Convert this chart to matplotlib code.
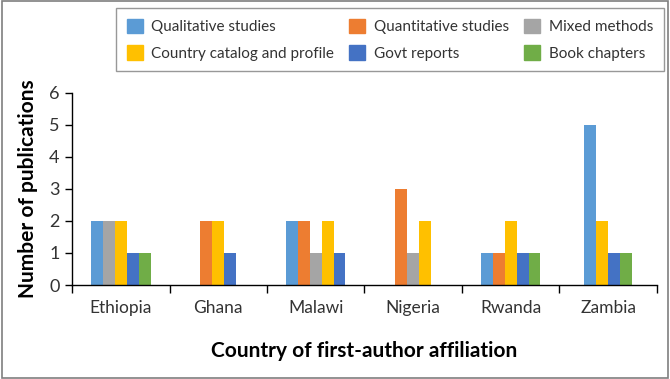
import numpy as np
import matplotlib
matplotlib.use("Agg")
import matplotlib.pyplot as plt
from matplotlib.patches import Rectangle

plt.rcParams['font.family'] = ['Lato', 'DejaVu Sans']

countries = ['Ethiopia', 'Ghana', 'Malawi', 'Nigeria', 'Rwanda', 'Zambia']
series = ['Qualitative studies', 'Quantitative studies', 'Mixed methods',
          'Country catalog and profile', 'Govt reports', 'Book chapters']
qualitative = [2, 0, 2, 0, 1, 5]
quantitative = [0, 2, 2, 3, 1, 0]
mixed = [2, 0, 1, 1, 0, 0]
catalog = [2, 2, 2, 2, 2, 2]
govt = [1, 1, 1, 0, 1, 1]
book = [1, 0, 0, 0, 1, 1]
colors = ['#5B9BD5', '#ED7D31', '#A5A5A5', '#FFC000', '#4472C4', '#70AD47']

values = np.array([qualitative, quantitative, mixed, catalog, govt, book])

fig = plt.figure(figsize=(6.7, 3.79), dpi=100)
ax = fig.add_axes([0.1075, 0.248, 0.873, 0.507])

bw = 0.122
# zero bars are left out and the rest of each group is packed round the centre
for i in range(len(countries)):
    idx = [s for s in range(len(series)) if values[s, i] > 0]
    offs = (np.arange(len(idx)) - (len(idx) - 1) / 2) * bw
    for s, o in zip(idx, offs):
        ax.bar(i + o, values[s, i], width=bw, color=colors[s])

handles = [Rectangle((0, 0), 1, 1, color=c) for c in colors]

ax.set_xlim(-0.5, 5.5)
ax.set_ylim(0, 6)
ax.set_yticks(range(7))
ax.set_xticks(np.arange(-0.5, 6, 1))
ax.set_xticklabels([])
ax.set_xticks(range(6), minor=True)
ax.set_xticklabels(countries, minor=True, fontsize=12.5, color='#333333')
ax.tick_params(axis='x', which='minor', length=0, pad=11)
ax.tick_params(axis='x', which='major', length=6, direction='out', width=1)
ax.tick_params(axis='y', length=5, direction='out', width=1, labelsize=13,
               labelcolor='#333333', pad=4)
for sp in ['top', 'right']:
    ax.spines[sp].set_visible(False)
ax.spines['left'].set_linewidth(1)
ax.spines['bottom'].set_linewidth(1)

ax.set_ylabel('Number of publications', fontsize=15, fontweight='bold', labelpad=8)
ax.set_xlabel('Country of first-author affiliation', fontsize=15, fontweight='bold',
              labelpad=18)

# legend order in rows: Qual, Quant, Mixed / Catalog, Govt, Book
order = [0, 3, 1, 4, 2, 5]
leg = fig.legend([handles[k] for k in order], [series[k] for k in order],
                 ncol=3, loc='upper left', bbox_to_anchor=(116 / 670, 1 - 8 / 379),
                 fontsize=11, frameon=True, fancybox=False, edgecolor='#7f7f7f',
                 handlelength=1.05, handleheight=1.05, columnspacing=1.0,
                 handletextpad=0.55, borderpad=0.7, labelspacing=0.75,
                 borderaxespad=0)
leg.get_frame().set_linewidth(1)
for t in leg.get_texts():
    t.set_color('#333333')

fig.add_artist(Rectangle((0.003, 0.003), 0.994, 0.994, transform=fig.transFigure,
                         fill=False, edgecolor='#7f7f7f', linewidth=1.2))

fig.savefig('out.png', dpi=100)
